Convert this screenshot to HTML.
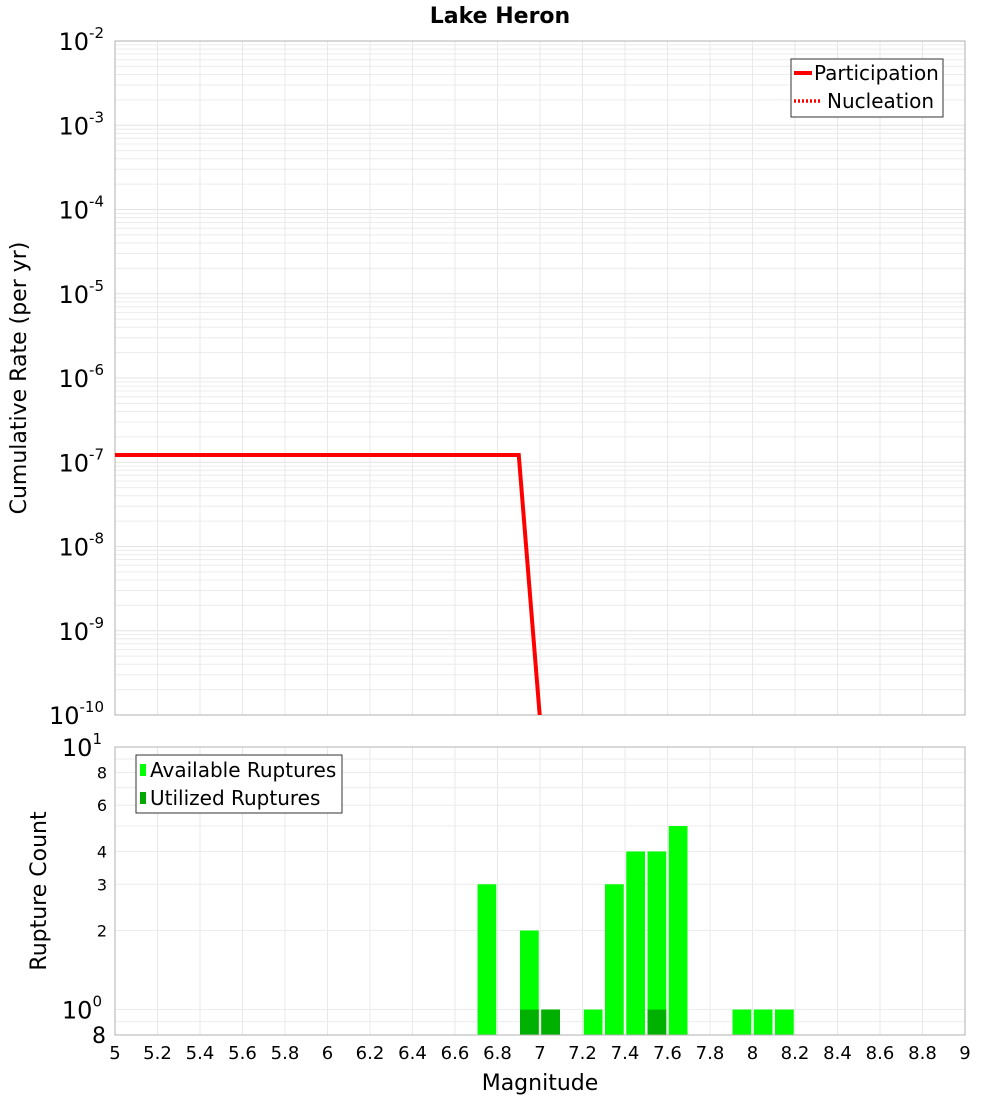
<!DOCTYPE html>
<html><head><meta charset="utf-8"><style>
body{margin:0;background:#fff;font-family:"Liberation Sans","DejaVu Sans",sans-serif}
svg text{font-family:"DejaVu Sans","Liberation Sans",sans-serif}
</style></head><body>
<svg id="c" width="1000" height="1100" xmlns="http://www.w3.org/2000/svg">
<text x="500" y="23" text-anchor="middle" font-size="22" font-weight="bold">Lake Heron</text>
<g id="topPlot"></g>
<g id="botPlot"></g>
<text transform="translate(26,378) rotate(-90)" text-anchor="middle" font-size="22">Cumulative Rate (per yr)</text>
<text transform="translate(46,891) rotate(-90)" text-anchor="middle" font-size="22">Rupture Count</text>
<text x="540" y="1090" text-anchor="middle" font-size="22">Magnitude</text>
<g id="legends">
<g>
<rect x="791" y="59" width="152" height="58" fill="#fff" stroke="#333"/>
<line x1="794" y1="73" x2="812" y2="73" stroke="#f00" stroke-width="4"/>
<text x="814" y="80" font-size="20">Participation</text>
<line x1="794" y1="101" x2="820" y2="101" stroke="#f00" stroke-width="3.5" stroke-dasharray="2,2"/>
<text x="827" y="108" font-size="20">Nucleation</text>
</g>
<g>
<rect x="136" y="755" width="206" height="58" fill="#fff" stroke="#333"/>
<rect x="140" y="764" width="6" height="12" fill="#00ff00"/>
<text x="150" y="777" font-size="20">Available Ruptures</text>
<rect x="140" y="792" width="6" height="12" fill="#00a800"/>
<text x="150" y="805" font-size="20">Utilized Ruptures</text>
</g>
</g>
</svg>
<script>
const lineMags=[5.0,6.9,7.0];
const partRates=[1.22e-7,1.22e-7,9e-11];
const nuclRates=[1.22e-7,1.22e-7,9e-11];
const binMags=[6.75,6.95,7.05,7.25,7.35,7.45,7.55,7.65,7.95,8.05,8.15];
const availCounts=[3,2,1,1,3,4,4,5,1,1,1];
const usedCounts=[0,1,1,0,0,0,1,0,0,0,0];
const xTicks=["5","5.2","5.4","5.6","5.8","6","6.2","6.4","6.6","6.8","7","7.2","7.4","7.6","7.8","8","8.2","8.4","8.6","8.8","9"];
const ns="http://www.w3.org/2000/svg";
const L=115,R=965,T1=41,B1=715,T2=747,B2=1035;
const X=m=>L+(m-5)/4*(R-L);
const Y1=v=>T1+(-2-Math.log10(v))/8*(B1-T1);
const Y2=v=>T2+(1-Math.log10(v))/(1-Math.log10(0.8))*(B2-T2);
function mk(p,t,a){const e=document.createElementNS(ns,t);for(const k in a)e.setAttribute(k,a[k]);p.appendChild(e);return e;}
const gTop=document.getElementById('topPlot'),gBot=document.getElementById('botPlot');
for(let d=-10;d<-2;d++)for(let k=1;k<10;k++){const y=Y1(k*Math.pow(10,d));const g=mk(gTop,'line',{x1:L,x2:R,y1:y,y2:y,stroke:k==1?'#e4e4e4':'#ececec','stroke-width':1});

}
for(let i=0;i<xTicks.length;i++){const x=X(+xTicks[i]);mk(gTop,'line',{x1:x,x2:x,y1:T1,y2:B1,stroke:'#e8e8e8'});mk(gBot,'line',{x1:x,x2:x,y1:T2,y2:B2,stroke:'#e8e8e8'});}
for(let d=-2;d>=-10;d--){const y=Y1(Math.pow(10,d));const t=mk(gTop,'text',{x:104,y:y+9,'text-anchor':'end','font-size':24});


t.innerHTML='10<tspan dy="-12" font-size="15">'+d+'</tspan>';}
mk(gTop,'rect',{x:L,y:T1,width:R-L,height:B1-T1,fill:'none',stroke:'#b0b0b0'});
const cp=mk(gTop,'clipPath',{id:'cp'});mk(cp,'rect',{x:L,y:T1,width:R-L,height:B1-T1});
const pts=a=>lineMags.map((m,i)=>X(m)+','+Y1(a[i])).join(' ');
const pl=mk(gTop,'polyline',{points:pts(partRates),fill:'none',stroke:'#f00','stroke-width':4,'clip-path':'url(#cp)'});


const nl=mk(gTop,'polyline',{points:pts(nuclRates),fill:'none',stroke:'#f00','stroke-width':3,'stroke-dasharray':'2,2','clip-path':'url(#cp)'});


[0.8,0.9,1,2,3,4,5,6,7,8,9,10].forEach(v=>{const y=Y2(v);mk(gBot,'line',{x1:L,x2:R,y1:y,y2:y,stroke:'#ececec'});});
[[0.8,"8"],[2,"2"],[3,"3"],[4,"4"],[6,"6"],[8,"8"]].forEach(([v,s])=>{const t=mk(gBot,'text',{x:v<1?106:107,y:Y2(v)+(v<1?8:6),'text-anchor':'end','font-size':v<1?22:16});t.textContent=s;

});
[[1,'0'],[10,'1']].forEach(([v,s])=>{const t=mk(gBot,'text',{x:102,y:Y2(v)+9,'text-anchor':'end','font-size':24});t.innerHTML='10<tspan dy="-12" font-size="15">'+s+'</tspan>';

});
const bw=(X(5.1)-X(5))-2.5;
binMags.forEach((m,i)=>{const y=Y2(availCounts[i]);const r=mk(gBot,'rect',{x:X(m)-bw/2,y:y,width:bw,height:B2-y,fill:'#00ff00'});


if(usedCounts[i]>0){const yu=Y2(usedCounts[i]);const u=mk(gBot,'rect',{x:X(m)-bw/2,y:yu,width:bw,height:B2-yu,fill:'#00b000'});

}});
mk(gBot,'rect',{x:L,y:T2,width:R-L,height:B2-T2,fill:'none',stroke:'#b0b0b0'});
xTicks.forEach(s=>{const t=mk(gBot,'text',{x:X(+s),y:1059,'text-anchor':'middle','font-size':18});t.textContent=s;

});
document.getElementById('c').appendChild(document.getElementById('legends'));
</script>
</body></html>
